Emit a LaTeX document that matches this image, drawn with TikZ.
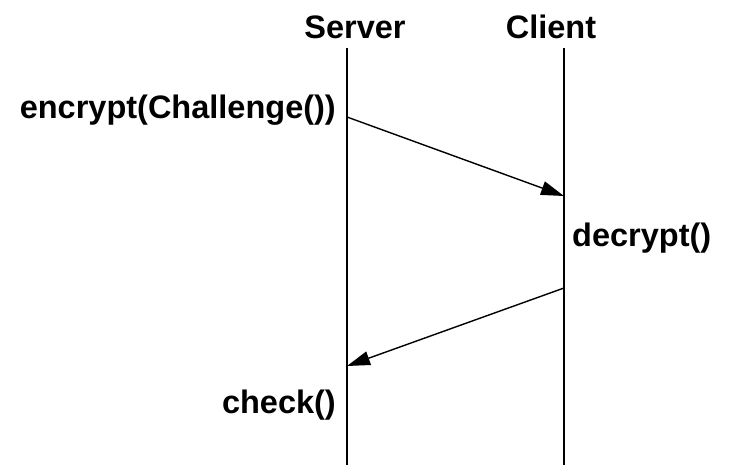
\documentclass[tikz,border=0pt]{standalone}
\usepackage{fontspec}
\setmainfont{Liberation Sans}
\usetikzlibrary{arrows.meta}
\begin{document}
\begin{tikzpicture}[x=1pt,y=-1pt,
  lbl/.style={font=\fontsize{32.5}{36}\selectfont\bfseries, inner sep=0pt},
  lifeline/.style={line width=1.4pt},
  msg/.style={line width=1.4pt, -{Triangle[length=23pt,width=14pt]}}]
  \useasboundingbox (0,0) rectangle (731,465);
  % participants
  \node[lbl, anchor=base] (server) at (355,39) {Server};
  \node[lbl, anchor=base] (client) at (551,39) {Client};
  % lifelines
  \coordinate (s0) at (347,48);
  \coordinate (s1) at (347,465);
  \coordinate (c0) at (564,48);
  \coordinate (c1) at (564,465);
  \draw[lifeline] (s0) -- (s1);
  \draw[lifeline] (c0) -- (c1);
  % messages
  \coordinate (m1a) at (347,117);
  \coordinate (m1b) at (564,196);
  \coordinate (m2a) at (564,288);
  \coordinate (m2b) at (347,366);
  \draw[msg] (m1a) -- (m1b);
  \draw[msg] (m2a) -- (m2b);
  % actions
  \node[lbl, anchor=base east] (enc) at (336,119) {encrypt(Challenge())};
  \node[lbl, anchor=base west] (dec) at (572,247) {decrypt()};
  \node[lbl, anchor=base east] (chk) at (336,413) {check()};
\end{tikzpicture}
\end{document}
